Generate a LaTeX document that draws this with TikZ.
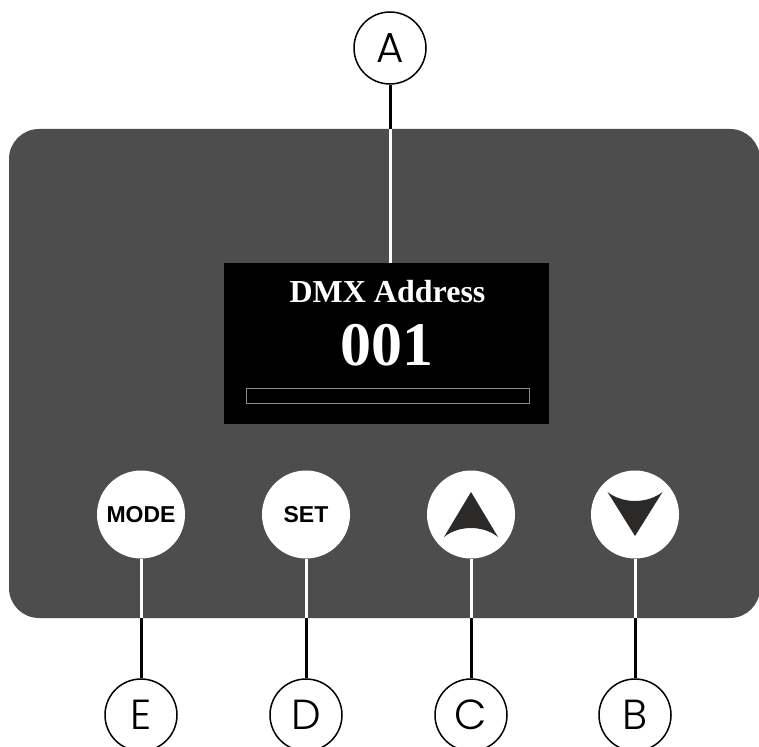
\documentclass[tikz,border=0pt]{standalone}
\usepackage{fontspec}
\setmainfont{Liberation Serif}
\setsansfont{Liberation Sans}
\newfontfamily\labelfont{Poppins Light}
\definecolor{panelgray}{HTML}{4D4D4D}
\definecolor{arrowgray}{HTML}{2B2A28}
\definecolor{bargray}{HTML}{8A8A8A}

\begin{document}
\begin{tikzpicture}[x=1pt,y=-1pt,
  button/.style={circle, fill=white, minimum size=88pt, inner sep=0pt,
    font=\sffamily\bfseries\fontsize{23}{23}\selectfont},
  callout/.style={circle, draw=black, line width=1.5pt, fill=white,
    minimum size=72pt, inner sep=0pt, font=\labelfont\fontsize{42}{42}\selectfont},
  lead/.style={line width=3pt}]
\useasboundingbox (0,0) rectangle (759,746);

% housing and display
\node [fill=panelgray, rounded corners=30pt, minimum width=751pt, minimum height=489pt,
  inner sep=0pt] (panel) at (384.5,373.5) {};
\node [fill=black, minimum width=325pt, minimum height=161pt, inner sep=0pt] (screen) at (386.5,343.5) {};

\node [text=white, anchor=base, font=\bfseries\fontsize{32}{32}\selectfont] (title) at (387.5,302) {DMX Address};
\node [text=white, anchor=base, font=\bfseries\fontsize{62}{62}\selectfont] (value) at (387,365) {001};
\draw [bargray, line width=1pt, fill=black] (246,388) rectangle (529,403);

% buttons
\node [button] (mode) at (141,514.5) {MODE};
\node [button] (set)  at (306,514.5) {SET};
\node [button] (up)   at (471,514.5) {};
\node [button] (down) at (635,514.5) {};

\begin{scope}[shift={(up.center)}]
\fill [arrowgray] (0,-22.5) -- (27,22.5) .. controls (12,10.5) and (-12,10.5) .. (-27,22.5) -- cycle;
\end{scope}
\begin{scope}[shift={(down.center)}]
\fill [arrowgray] (0,21.5) -- (27.5,-22.5) .. controls (12,-10.5) and (-12,-10.5) .. (-27.5,-22.5) -- cycle;
\end{scope}

% callouts
\node [callout] (A) at (390,48) {A};
\node [callout] (E) at (141,715) {E};
\node [callout] (D) at (306,715) {D};
\node [callout] (C) at (471,715) {C};
\node [callout] (B) at (635,715) {B};

\draw [lead, black] (A.south) -- (A.south |- panel.north);
\draw [lead, white] (A.south |- panel.north) -- (A.south |- screen.north);

\foreach \btn/\lab in {mode/E, set/D, up/C, down/B} {
  \draw [lead, white] (\btn.south) -- (\btn.south |- panel.south);
  \draw [lead, black] (\btn.south |- panel.south) -- (\lab.north);
}

\end{tikzpicture}
\end{document}
